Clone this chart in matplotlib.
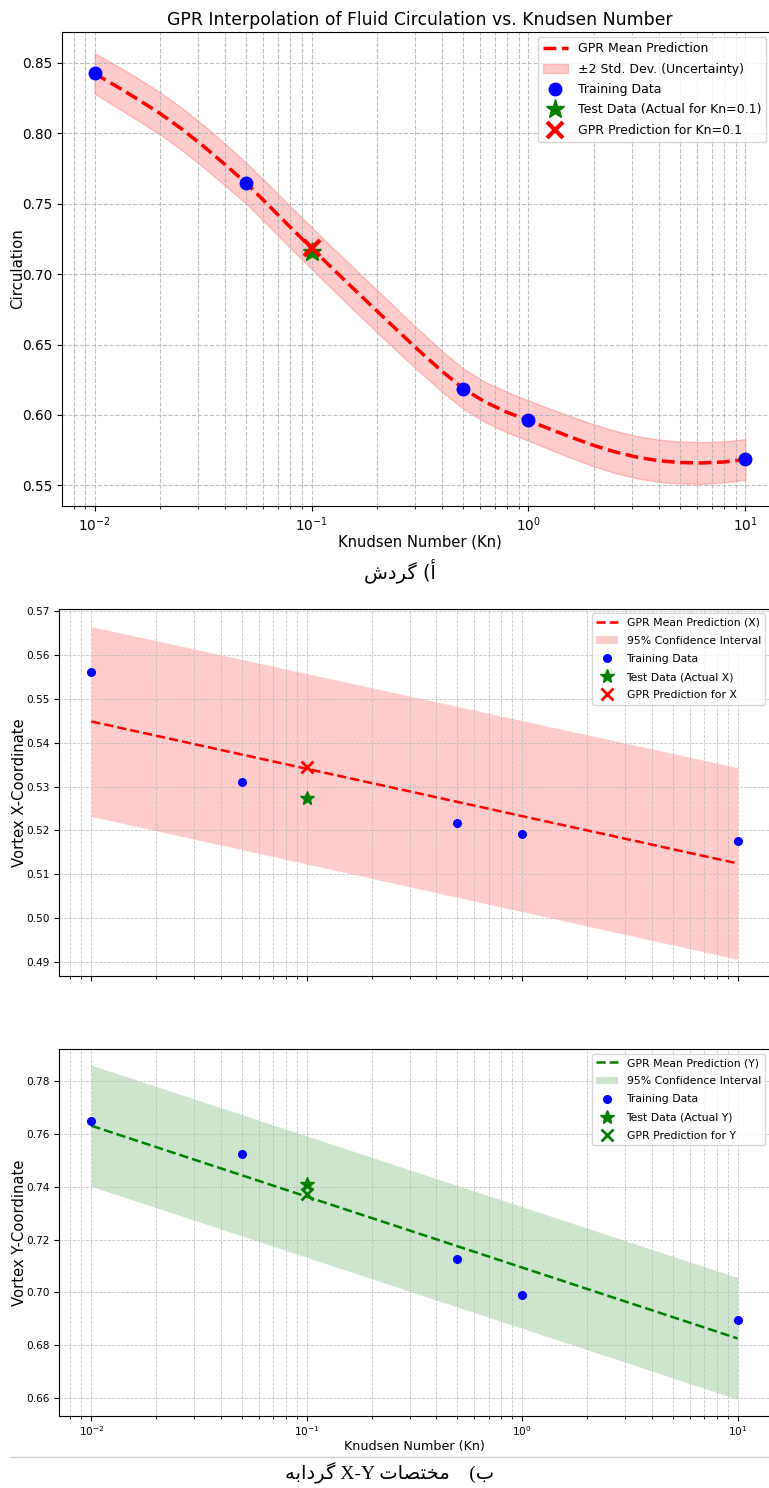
import matplotlib
matplotlib.use("Agg")
import matplotlib.pyplot as plt
import numpy as np

# ---------------- data ----------------
kn_train = [0.01, 0.05, 0.5, 1.0, 10.0]
kn_test = [0.1]

# (a) circulation
circ_train = [0.8425, 0.7647, 0.6184, 0.5964, 0.5685]
circ_test = [0.7155]
circ_pred = [0.7185]
# GPR mean, at Kn = 10**e
curve_exp = [-2.0, -1.9, -1.8, -1.7, -1.6, -1.5, -1.4, -1.3, -1.2, -1.1, -1.0,
             -0.9, -0.8, -0.7, -0.6, -0.5, -0.4, -0.3, -0.2, -0.1, 0.0,
             0.1, 0.2, 0.3, 0.4, 0.5, 0.6, 0.7, 0.8, 0.9, 1.0]
circ_mean = [0.8425, 0.8335, 0.8241, 0.8143, 0.8033, 0.7911, 0.7780, 0.7645,
             0.7492, 0.7337, 0.7185, 0.7035, 0.6887, 0.6740, 0.6594, 0.6450,
             0.6312, 0.6186, 0.6092, 0.6020, 0.5960, 0.5899, 0.5840, 0.5784,
             0.5737, 0.5700, 0.5675, 0.5662, 0.5659, 0.5666, 0.5684]
circ_2std = [0.0144, 0.0148, 0.0150, 0.0150, 0.0150, 0.0150, 0.0148, 0.0145,
             0.0147, 0.0149, 0.0148, 0.0149, 0.0150, 0.0150, 0.0149, 0.0147,
             0.0145, 0.0142, 0.0143, 0.0144, 0.0143, 0.0145, 0.0147, 0.0149,
             0.0150, 0.0150, 0.0150, 0.0149, 0.0148, 0.0146, 0.0144]

# (b) vortex coordinates
kn_line = [0.01, 10.0]
vx_train = [0.5560, 0.5310, 0.5216, 0.5191, 0.5177]
vx_test = [0.5273]
vx_pred = [0.5345]
vx_mean = [0.5448, 0.5125]
vx_ci = [0.0216, 0.0218]

vy_train = [0.7648, 0.7522, 0.7126, 0.6989, 0.6897]
vy_test = [0.7408]
vy_pred = [0.7373]
vy_mean = [0.7630, 0.6826]
vy_ci = [0.0229, 0.0230]

xticks = [0.01, 0.1, 1, 10]
cap_a = "\uFEB5\uFEA9\uFEAE\uFB94 (\uFE83"
cap_b = "\uFEEA\uFE91\uFE8D\uFEA9\uFEAE\uFB94 X-Y \uFE95\uFE8E\uFEBC\uFE98\uFEA8\uFEE3    (\uFE8F"

kn_curve = [10 ** e for e in curve_exp]

# ---------------- figure ----------------
W, H = 769, 1488
fig = plt.figure(figsize=(W / 100, H / 100), dpi=100)


def ax_box(l, r, t, b):
    return [l / W, 1 - b / H, (r - l) / W, (b - t) / H]


# ---- panel (a) ----
ax = fig.add_axes(ax_box(62, 778, 31.5, 505.5))
lo = np.array(circ_mean) - np.array(circ_2std)
hi = np.array(circ_mean) + np.array(circ_2std)
ax.plot(kn_curve, circ_mean, "r--", lw=2.5, label="GPR Mean Prediction")
ax.fill_between(kn_curve, lo, hi, color="red", alpha=0.2, label="±2 Std. Dev. (Uncertainty)")
ax.plot(kn_train, circ_train, "o", color="blue", ms=9, ls="none", label="Training Data")
ax.plot(kn_test, circ_test, "*", color="green", ms=14, ls="none", label="Test Data (Actual for Kn=0.1)")
ax.plot(kn_test, circ_pred, "x", color="red", ms=12, mew=3, ls="none", label="GPR Prediction for Kn=0.1")
ax.set_xscale("log")
ax.set_xlim(10 ** -2.15, 10 ** 1.15)
ax.set_ylim(0.5357, 0.8723)
ax.set_xticks(xticks)
ax.grid(True, which="both", ls="--", color="#b0b0b0", lw=0.8, alpha=0.8)
ax.set_title("GPR Interpolation of Fluid Circulation vs. Knudsen Number", fontsize=12.4, pad=4.5)
ax.set_xlabel("Knudsen Number (Kn)", fontsize=10.6, labelpad=0.5)
ax.set_ylabel("Circulation", fontsize=10.8)
ax.yaxis.set_label_coords((25 - 62) / 716, 0.5)
ax.tick_params(labelsize=9.8)
ax.legend(loc="upper right", fontsize=9.0, borderaxespad=0, labelspacing=0.6,
          bbox_to_anchor=(766 / W, 1 - 37 / H), bbox_transform=fig.transFigure)

fig.text(400 / W, 1 - 571 / H, cap_a, ha="center", va="center", fontsize=14,
         family=["DejaVu Sans"])

# ---- panel (b) top: X ----
ax2 = fig.add_axes(ax_box(59, 770, 608.5, 976))
ax2.plot(kn_line, vx_mean, "r--", lw=1.8, label="GPR Mean Prediction (X)")
ax2.fill_between(kn_line, np.array(vx_mean) - np.array(vx_ci),
                 np.array(vx_mean) + np.array(vx_ci), color="red", alpha=0.2,
                 lw=0, label="95% Confidence Interval")
ax2.plot(kn_train, vx_train, "o", color="blue", ms=5.5, ls="none", label="Training Data")
ax2.plot(kn_test, vx_test, "*", color="green", ms=10, ls="none", label="Test Data (Actual X)")
ax2.plot(kn_test, vx_pred, "x", color="red", ms=8.5, mew=2, ls="none", label="GPR Prediction for X")
ax2.set_xscale("log")
ax2.set_xlim(10 ** -2.15, 10 ** 1.15)
ax2.set_ylim(0.4869, 0.5705)
ax2.set_xticks(xticks)
ax2.set_xticklabels([])
ax2.set_yticks([0.49, 0.50, 0.51, 0.52, 0.53, 0.54, 0.55, 0.56, 0.57])
ax2.grid(True, which="both", ls="--", color="#b8b8b8", lw=0.6, alpha=0.8)
ax2.set_ylabel("Vortex X-Coordinate", fontsize=10.6)
ax2.yaxis.set_label_coords((27 - 59) / 711, 0.5)
ax2.tick_params(labelsize=7.6)
ax2.legend(loc="upper right", fontsize=7.8, labelspacing=0.75, borderaxespad=0.45)

# ---- panel (b) bottom: Y ----
ax3 = fig.add_axes(ax_box(59, 770, 1049, 1416))
ax3.plot(kn_line, vy_mean, "--", color="green", lw=1.8, label="GPR Mean Prediction (Y)")
ax3.fill_between(kn_line, np.array(vy_mean) - np.array(vy_ci),
                 np.array(vy_mean) + np.array(vy_ci), color="green", alpha=0.2,
                 lw=0, label="95% Confidence Interval")
ax3.plot(kn_train, vy_train, "o", color="blue", ms=5.5, ls="none", label="Training Data")
ax3.plot(kn_test, vy_test, "*", color="green", ms=10, ls="none", label="Test Data (Actual Y)")
ax3.plot(kn_test, vy_pred, "x", color="green", ms=8.5, mew=2, ls="none", label="GPR Prediction for Y")
ax3.set_xscale("log")
ax3.set_xlim(10 ** -2.15, 10 ** 1.15)
ax3.set_ylim(0.6533, 0.7920)
ax3.set_xticks(xticks)
ax3.set_yticks([0.66, 0.68, 0.70, 0.72, 0.74, 0.76, 0.78])
ax3.grid(True, which="both", ls="--", color="#b8b8b8", lw=0.6, alpha=0.8)
ax3.set_ylabel("Vortex Y-Coordinate", fontsize=10.6)
ax3.yaxis.set_label_coords((27 - 59) / 711, 0.5)
ax3.set_xlabel("Knudsen Number (Kn)", fontsize=9.2, labelpad=1.5)
ax3.tick_params(labelsize=7.6)
ax3.tick_params(axis="x", pad=2.5)
ax3.legend(loc="upper right", fontsize=7.8, labelspacing=0.75, borderaxespad=0.45)

# separator line and caption
fig.add_artist(plt.Line2D([10 / W, 1], [1 - 1457 / H, 1 - 1457 / H],
                          color="#d0d0d0", lw=1))
fig.text(390 / W, 1 - 1473 / H, cap_b, ha="center", va="center", fontsize=14,
         family=["Liberation Serif", "DejaVu Sans"])

fig.savefig("out.png", dpi=100)
